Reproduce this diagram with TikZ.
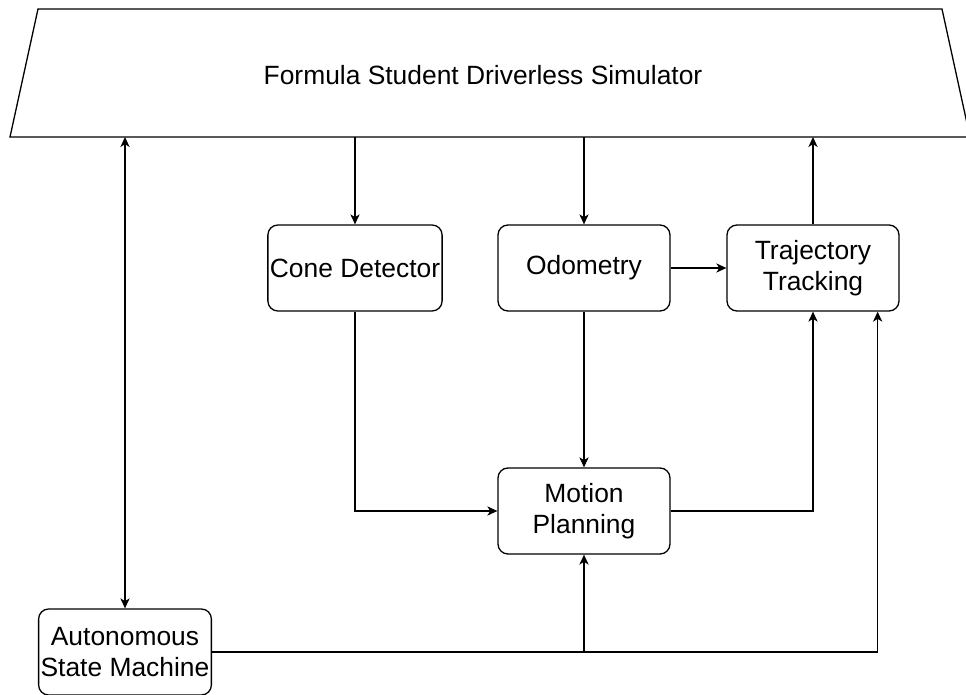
\documentclass[tikz,border=0pt]{standalone}
\usepackage{fontspec}
\setmainfont{Liberation Sans}
\usepackage{tikz}
\usetikzlibrary{arrows.meta,positioning}

\tikzset{
  block/.style={draw, rounded corners=5pt, minimum width=86pt, minimum height=43pt,
    align=center, inner sep=1pt},
  link/.style={-{Stealth[length=5pt,width=4.6pt,inset=1.4pt]}},
}

\begin{document}
\begin{tikzpicture}[x=0.5pt,y=-0.5pt,line width=0.65pt,font=\fontsize{13.2}{15.5}\selectfont]
\useasboundingbox (0,0) rectangle (966,695);

% Simulator
\draw (38,9) -- (942,9) -- (970,137) -- (10,137) -- cycle;
\node (sim) at (483,75) {Formula Student Driverless Simulator};
\coordinate (simbot) at (483,137);

% Blocks
\node[block] (cone) at (355,268) {Cone Detector};
\node[block] (odom) at (584,268) {Odometry};
\node[block] (tt) at (813,268) {Trajectory\\Tracking};
\node[block] (mp) at (584,511) {Motion\\Planning};
\node[block] (asm) at (125,652) {Autonomous\\State Machine};

% Connections
\draw[link] (simbot -| cone) -- (cone.north);
\draw[link] (simbot -| odom) -- (odom.north);
\draw[link] (tt.north) -- (simbot -| tt);
\draw[{Stealth[length=5pt,width=4.6pt,inset=1.4pt]}-{Stealth[length=5pt,width=4.6pt,inset=1.4pt]}] (simbot -| asm) -- (asm.north);
\draw[link] (odom.east) -- (tt.west);
\draw[link] (odom.south) -- (mp.north);
\draw[link] (cone.south) |- (mp.west);
\draw[link] (mp.east) -| (tt.south);
\draw[link] (asm.east) -| ([xshift=-11pt]tt.south east);
\draw[link] (asm.east -| mp.south) -- (mp.south);
\end{tikzpicture}
\end{document}
